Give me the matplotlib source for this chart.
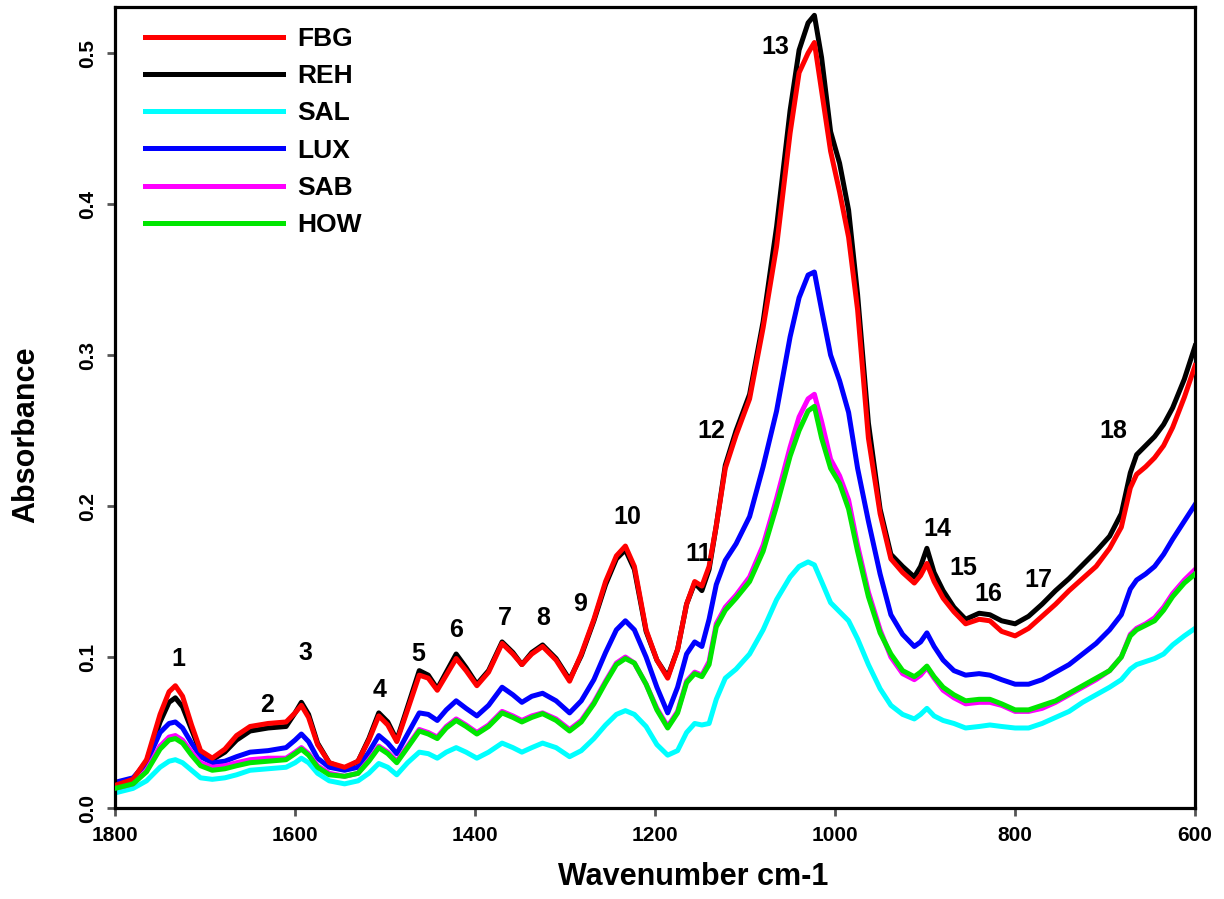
import numpy as np
import matplotlib.pyplot as plt

plt.rcParams['font.family'] = ['Liberation Sans', 'DejaVu Sans']
plt.rcParams['font.weight'] = 'bold'

# wavenumber points (cm-1)
wavenumber = [1800, 1780, 1765, 1750, 1740, 1733, 1725, 1715, 1705, 1692,
              1678, 1665, 1650, 1630, 1610, 1600, 1593, 1585, 1575, 1562,
              1545, 1530, 1518, 1507, 1497, 1487, 1475, 1462, 1452, 1442,
              1432, 1421, 1410, 1398, 1385, 1370, 1358, 1348, 1337, 1325,
              1310, 1295, 1282, 1268, 1255, 1243, 1233, 1223, 1210, 1198,
              1186, 1175, 1165, 1156, 1148, 1140, 1132, 1122, 1110, 1095,
              1080, 1065, 1050, 1040, 1030, 1023, 1015, 1005, 995, 985,
              975, 963, 950, 938, 925, 912, 905, 898, 890, 880,
              868, 855, 840, 828, 815, 800, 785, 770, 755, 740,
              725, 710, 695, 682, 672, 665, 655, 645, 635, 625,
              612, 600]

fbg = [0.015, 0.019, 0.032, 0.062, 0.077, 0.081, 0.074, 0.055, 0.038, 0.033,
       0.039, 0.048, 0.054, 0.056, 0.057, 0.063, 0.068, 0.060, 0.042, 0.030,
       0.027, 0.031, 0.045, 0.061, 0.055, 0.044, 0.065, 0.088, 0.086, 0.078,
       0.088, 0.099, 0.091, 0.081, 0.090, 0.109, 0.102, 0.095, 0.102, 0.107,
       0.098, 0.084, 0.102, 0.125, 0.150, 0.167, 0.1735, 0.160, 0.118, 0.098,
       0.086, 0.105, 0.135, 0.150, 0.147, 0.160, 0.187, 0.225, 0.247, 0.271,
       0.318, 0.372, 0.447, 0.487, 0.500, 0.507, 0.475, 0.435, 0.408, 0.378,
       0.330, 0.245, 0.195, 0.165, 0.156, 0.149, 0.154, 0.162, 0.150, 0.139,
       0.130, 0.122, 0.125, 0.124, 0.117, 0.114, 0.119, 0.127, 0.135, 0.144,
       0.152, 0.160, 0.172, 0.186, 0.212, 0.221, 0.226, 0.232, 0.240, 0.252,
       0.272, 0.293]

reh = [0.015, 0.019, 0.031, 0.057, 0.070, 0.073, 0.067, 0.052, 0.037, 0.032,
       0.037, 0.045, 0.051, 0.053, 0.054, 0.063, 0.070, 0.062, 0.043, 0.030,
       0.026, 0.031, 0.046, 0.063, 0.057, 0.045, 0.067, 0.091, 0.088, 0.079,
       0.090, 0.102, 0.093, 0.082, 0.091, 0.110, 0.103, 0.095, 0.103, 0.108,
       0.099, 0.085, 0.101, 0.124, 0.148, 0.165, 0.171, 0.158, 0.117, 0.098,
       0.087, 0.105, 0.135, 0.149, 0.144, 0.158, 0.187, 0.227, 0.250, 0.274,
       0.322, 0.385, 0.462, 0.502, 0.520, 0.525, 0.497, 0.448, 0.427, 0.396,
       0.340, 0.255, 0.198, 0.168, 0.160, 0.153, 0.160, 0.172, 0.156, 0.144,
       0.133, 0.125, 0.129, 0.128, 0.124, 0.122, 0.127, 0.135, 0.144, 0.152,
       0.161, 0.170, 0.180, 0.195, 0.222, 0.234, 0.240, 0.246, 0.254, 0.265,
       0.284, 0.306]

sal = [0.010, 0.013, 0.018, 0.027, 0.031, 0.032, 0.030, 0.025, 0.020, 0.019,
       0.020, 0.022, 0.025, 0.026, 0.027, 0.030, 0.033, 0.030, 0.023, 0.018,
       0.016, 0.018, 0.023, 0.0295, 0.027, 0.022, 0.030, 0.037, 0.036, 0.033,
       0.037, 0.040, 0.037, 0.033, 0.037, 0.043, 0.040, 0.037, 0.040, 0.043,
       0.040, 0.034, 0.038, 0.046, 0.055, 0.062, 0.0645, 0.062, 0.054, 0.042,
       0.035, 0.038, 0.050, 0.056, 0.055, 0.056, 0.072, 0.086, 0.092, 0.102,
       0.118, 0.138, 0.153, 0.160, 0.163, 0.161, 0.150, 0.136, 0.130, 0.124,
       0.112, 0.095, 0.079, 0.068, 0.062, 0.059, 0.062, 0.066, 0.061, 0.058,
       0.056, 0.053, 0.054, 0.055, 0.054, 0.053, 0.053, 0.056, 0.060, 0.064,
       0.070, 0.075, 0.080, 0.085, 0.092, 0.095, 0.097, 0.099, 0.102, 0.108,
       0.114, 0.119]

lux = [0.017, 0.020, 0.030, 0.050, 0.056, 0.057, 0.053, 0.043, 0.034, 0.030,
       0.031, 0.034, 0.037, 0.038, 0.040, 0.045, 0.049, 0.044, 0.033, 0.027,
       0.025, 0.027, 0.037, 0.048, 0.043, 0.036, 0.049, 0.063, 0.062, 0.058,
       0.065, 0.071, 0.066, 0.061, 0.068, 0.080, 0.075, 0.070, 0.074, 0.076,
       0.071, 0.063, 0.071, 0.085, 0.103, 0.118, 0.124, 0.118, 0.100, 0.080,
       0.063, 0.080, 0.102, 0.110, 0.107, 0.125, 0.148, 0.164, 0.175, 0.193,
       0.226, 0.263, 0.312, 0.338, 0.353, 0.355, 0.330, 0.300, 0.283, 0.262,
       0.225, 0.190, 0.155, 0.128, 0.115, 0.107, 0.110, 0.116, 0.107, 0.098,
       0.091, 0.088, 0.089, 0.088, 0.085, 0.082, 0.082, 0.085, 0.090, 0.095,
       0.102, 0.109, 0.118, 0.128, 0.145, 0.151, 0.155, 0.160, 0.168, 0.178,
       0.190, 0.201]

sab = [0.013, 0.016, 0.025, 0.041, 0.047, 0.048, 0.045, 0.037, 0.030, 0.027,
       0.028, 0.030, 0.032, 0.033, 0.033, 0.037, 0.040, 0.036, 0.028, 0.023,
       0.021, 0.023, 0.032, 0.041, 0.037, 0.031, 0.041, 0.052, 0.050, 0.047,
       0.054, 0.059, 0.055, 0.050, 0.055, 0.064, 0.061, 0.058, 0.061, 0.063,
       0.059, 0.052, 0.058, 0.070, 0.084, 0.096, 0.100, 0.096, 0.082, 0.066,
       0.054, 0.064, 0.084, 0.090, 0.088, 0.097, 0.122, 0.133, 0.141, 0.153,
       0.174, 0.205, 0.239, 0.259, 0.271, 0.274, 0.256, 0.231, 0.220, 0.204,
       0.174, 0.143, 0.118, 0.100, 0.089, 0.085, 0.088, 0.093, 0.086, 0.078,
       0.073, 0.069, 0.070, 0.070, 0.068, 0.064, 0.064, 0.066, 0.070, 0.075,
       0.080, 0.085, 0.091, 0.100, 0.115, 0.119, 0.122, 0.126, 0.133, 0.142,
       0.151, 0.158]

how = [0.013, 0.016, 0.024, 0.039, 0.045, 0.046, 0.043, 0.035, 0.028, 0.025,
       0.026, 0.028, 0.030, 0.031, 0.032, 0.036, 0.039, 0.035, 0.027, 0.022,
       0.021, 0.023, 0.031, 0.040, 0.036, 0.030, 0.040, 0.051, 0.049, 0.046,
       0.053, 0.058, 0.054, 0.049, 0.054, 0.063, 0.060, 0.057, 0.060, 0.0625,
       0.058, 0.051, 0.057, 0.069, 0.083, 0.095, 0.099, 0.096, 0.082, 0.065,
       0.053, 0.063, 0.083, 0.089, 0.087, 0.095, 0.120, 0.131, 0.139, 0.150,
       0.170, 0.200, 0.233, 0.250, 0.263, 0.266, 0.245, 0.225, 0.215, 0.198,
       0.170, 0.140, 0.116, 0.102, 0.091, 0.087, 0.090, 0.094, 0.087, 0.080,
       0.075, 0.071, 0.072, 0.072, 0.069, 0.065, 0.065, 0.068, 0.071, 0.076,
       0.081, 0.086, 0.091, 0.100, 0.114, 0.118, 0.121, 0.124, 0.131, 0.140,
       0.149, 0.155]

# band labels: number, wavenumber, absorbance
peak_labels = ['1', '2', '3', '4', '5', '6', '7', '8', '9', '10',
               '11', '12', '13', '14', '15', '16', '17', '18']
peak_x = [1730, 1631, 1589, 1506, 1463, 1421, 1367, 1324, 1283, 1231,
          1152, 1137, 1066, 886, 858, 830, 774, 691]
peak_y = [0.099, 0.068, 0.103, 0.078, 0.102, 0.118, 0.126, 0.126, 0.135, 0.193,
          0.168, 0.250, 0.504, 0.185, 0.159, 0.142, 0.151, 0.250]

x = np.array(wavenumber)

fig = plt.figure(figsize=(12.24, 8.99), dpi=100)
ax = fig.add_axes([0.094, 0.1012, 0.8824, 0.891])

lw = 3.6
l_reh, = ax.plot(x, reh, color='black', lw=lw, label='REH', zorder=2)
l_fbg, = ax.plot(x, fbg, color='#ff0000', lw=lw, label='FBG', zorder=3)
l_sal, = ax.plot(x, sal, color='#00ffff', lw=lw, label='SAL', zorder=2)
l_lux, = ax.plot(x, lux, color='#0000ff', lw=lw, label='LUX', zorder=2)
l_sab, = ax.plot(x, sab, color='#ff00ff', lw=lw, label='SAB', zorder=2)
l_how, = ax.plot(x, how, color='#00e600', lw=lw, label='HOW', zorder=3)

for lab, px, py in zip(peak_labels, peak_x, peak_y):
    ax.text(px, py, lab, fontsize=18, fontweight='bold', ha='center', va='center')

ax.set_xlim(1800, 600)
ax.set_ylim(0, 0.5305)
ax.set_xticks([1800, 1600, 1400, 1200, 1000, 800, 600])
ax.set_yticks([0.0, 0.1, 0.2, 0.3, 0.4, 0.5])
ax.set_yticklabels(['0.0', '0.1', '0.2', '0.3', '0.4', '0.5'], rotation=90, va='center')

ax.tick_params(axis='both', direction='out', length=6, width=2, color='#555555',
               labelsize=15, pad=7)
for s in ax.spines.values():
    s.set_linewidth(2.3)

ax.set_xlabel('Wavenumber cm-1', fontsize=22, fontweight='bold')
ax.xaxis.set_label_coords(0.535, -0.068)
ax.set_ylabel('Absorbance', fontsize=22, fontweight='bold')
ax.yaxis.set_label_coords(-0.068, 0.466)

leg = ax.legend(handles=[l_fbg, l_reh, l_sal, l_lux, l_sab, l_how],
                loc='upper left', bbox_to_anchor=(0.028, 0.975), frameon=False,
                fontsize=19, handlelength=5.2, handletextpad=0.55,
                labelspacing=0.5, borderpad=0, borderaxespad=0)

plt.savefig('out.png', dpi=100)
